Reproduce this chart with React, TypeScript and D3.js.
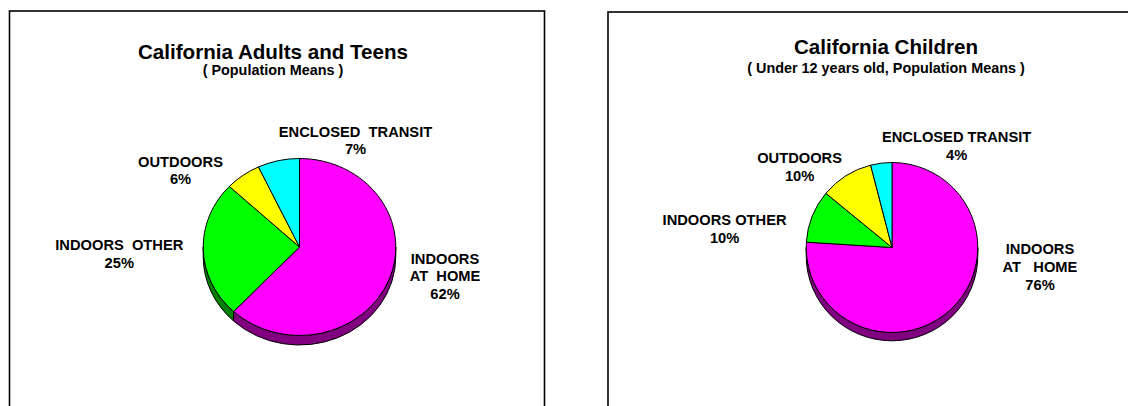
import React from "react";
import * as d3 from "d3";

// ---- data ----
const categories = ["INDOORS AT HOME", "INDOORS OTHER", "OUTDOORS", "ENCLOSED TRANSIT"];
const adultsValues = [62, 25, 6, 7];
const childrenValues = [76, 10, 10, 4];
const adultsLabelLines = [["INDOORS", "AT  HOME"], ["INDOORS  OTHER"], ["OUTDOORS"], ["ENCLOSED  TRANSIT"]];
const childrenLabelLines = [["INDOORS", "AT   HOME"], ["INDOORS OTHER"], ["OUTDOORS"], ["ENCLOSED TRANSIT"]];
const adultsTitle = "California Adults and Teens";
const adultsSubtitle = "( Population Means )";
const childrenTitle = "California Children";
const childrenSubtitle = "( Under 12 years old, Population Means )";

// ---- styles ----
const topColors = ["#FF00FF", "#00FF00", "#FFFF00", "#00FFFF"];
const sideColors = ["#800080", "#008000", "#808000", "#008080"];
const FONT = "Arial, 'Liberation Sans', Helvetica, sans-serif";

type Layout = {
  frame: { x: number; y: number; w: number; h: number };
  titleX: number; titleY: number; subY: number;
  cx: number; cy: number; rx: number; ry: number; depth: number;
  labels: { x: number; y: number }[];
  lineGap: number;
};

const adultsLayout: Layout = {
  frame: { x: 9.5, y: 11, w: 535, h: 420 },
  titleX: 273, titleY: 59, subY: 75,
  cx: 299.5, cy: 247, rx: 96.3, ry: 88.5, depth: 9.5,
  labels: [{ x: 445, y: 263.5 }, { x: 119.3, y: 250 }, { x: 180.5, y: 166.7 }, { x: 355.5, y: 136.7 }],
  lineGap: 17.5,
};

const childrenLayout: Layout = {
  frame: { x: 608, y: 12, w: 560, h: 420 },
  titleX: 886, titleY: 53.5, subY: 72.5,
  cx: 892, cy: 247.5, rx: 85.8, ry: 85, depth: 8.3,
  labels: [{ x: 1040, y: 254.3 }, { x: 724.6, y: 225 }, { x: 799.6, y: 162.7 }, { x: 956.6, y: 141.7 }],
  lineGap: 17.8,
};

function sidePath(a0: number, a1: number, r: number, depth: number): string {
  const p = (a: number) => [r * Math.sin(a), -r * Math.cos(a)];
  const [x0, y0] = p(a0);
  const [x1, y1] = p(a1);
  const large = a1 - a0 > Math.PI ? 1 : 0;
  const path = d3.path();
  path.moveTo(x0, y0);
  // arc along the rim (clockwise)
  const s = `M${x0},${y0}A${r},${r} 0 ${large} 1 ${x1},${y1}L${x1},${y1 + depth}A${r},${r} 0 ${large} 0 ${x0},${y0 + depth}Z`;
  return s;
}

function PieChart({ values, lines, title, subtitle, L }: {
  values: number[]; lines: string[][]; title: string; subtitle: string; L: Layout;
}) {
  const pie = d3.pie<number>().sort(null).value((d) => d).startAngle(0).endAngle(2 * Math.PI);
  const arcs = pie(values);
  const arcGen = d3.arc<d3.PieArcDatum<number>>().innerRadius(0).outerRadius(L.ry);
  const sx = L.rx / L.ry;
  const total = d3.sum(values);
  const fmt = (v: number) => `${Math.round((v / total) * 100)}%`;

  const sides: { d: string; color: string }[] = [];
  arcs.forEach((a, i) => {
    const lo = Math.max(a.startAngle, Math.PI / 2);
    const hi = Math.min(a.endAngle, (3 * Math.PI) / 2);
    if (hi > lo) sides.push({ d: sidePath(lo, hi, L.ry, L.depth), color: sideColors[i] });
  });

  return (
    <g>
      <rect x={L.frame.x} y={L.frame.y} width={L.frame.w} height={L.frame.h} fill="#fff" stroke="#000" strokeWidth={1.6} />
      <text x={L.titleX} y={L.titleY} textAnchor="middle" fontFamily={FONT} fontWeight="bold" fontSize={20.6} fill="#000">{title}</text>
      <text x={L.titleX} y={L.subY} textAnchor="middle" fontFamily={FONT} fontWeight="bold" fontSize={14.4} fill="#000" style={{ whiteSpace: "pre" }}>{subtitle}</text>
      <g transform={`translate(${L.cx},${L.cy}) scale(${sx},1)`}>
        {sides.map((s, i) => (
          <path key={"s" + i} d={s.d} fill={s.color} stroke="#000" strokeWidth={1} vectorEffect="non-scaling-stroke" strokeLinejoin="round" />
        ))}
        {arcs.map((a, i) => (
          <path key={"a" + i} d={arcGen(a) || ""} fill={topColors[i]} stroke="#000" strokeWidth={1} vectorEffect="non-scaling-stroke" strokeLinejoin="round" />
        ))}
      </g>
      {arcs.map((a, i) => {
        const pos = L.labels[i];
        const all = [...lines[i], fmt(values[i])];
        return (
          <text key={"l" + i} textAnchor="middle" fontFamily={FONT} fontWeight="bold" fontSize={14.7} fill="#000" style={{ whiteSpace: "pre" }}>
            {all.map((t, j) => (
              <tspan key={j} x={pos.x} y={pos.y + j * L.lineGap}>{t}</tspan>
            ))}
          </text>
        );
      })}
    </g>
  );
}

export default function App() {
  return (
    <svg width={1128} height={406} viewBox="0 0 1128 406" style={{ position: "absolute", left: 0, top: 0, background: "#fff" }}>
      <rect x={0} y={0} width={1128} height={406} fill="#fff" />
      <PieChart values={adultsValues} lines={adultsLabelLines} title={adultsTitle} subtitle={adultsSubtitle} L={adultsLayout} />
      <PieChart values={childrenValues} lines={childrenLabelLines} title={childrenTitle} subtitle={childrenSubtitle} L={childrenLayout} />
    </svg>
  );
}
